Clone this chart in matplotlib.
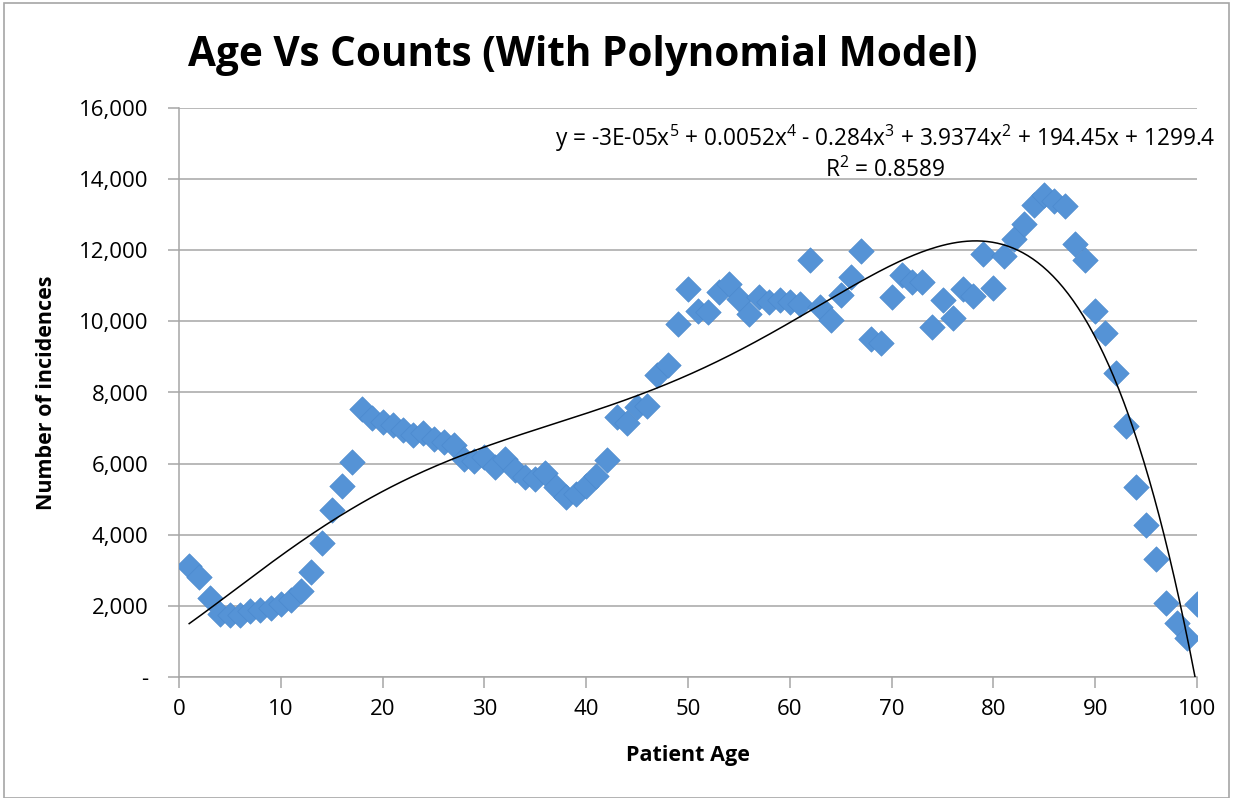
import numpy as np
import matplotlib
matplotlib.use("Agg")
from matplotlib import pyplot as plt
from matplotlib.ticker import FuncFormatter
from matplotlib.patches import Rectangle

# Patient age vs number of incidences
ages = list(range(1, 101))
counts = [
    3130, 2800, 2220, 1770, 1750, 1750, 1860, 1880, 1950, 2050,
    2160, 2420, 2940, 3780, 4690, 5380, 6040, 7540, 7290, 7160,
    7100, 6950, 6800, 6850, 6700, 6600, 6510, 6130, 6080, 6200,
    5900, 6130, 5820, 5610, 5570, 5750, 5330, 5050, 5150, 5380,
    5660, 6100, 7300, 7140, 7590, 7630, 8500, 8760, 9930, 10920,
    10300, 10260, 10830, 11060, 10640, 10220, 10690, 10540, 10590, 10540,
    10500, 11720, 10400, 10030, 10730, 11250, 11980, 9510, 9390, 10690,
    11300, 11110, 11110, 9840, 10590, 10100, 10920, 10700, 11900, 10950,
    11830, 12330, 12750, 13270, 13550, 13390, 13240, 12170, 11720, 10290,
    9680, 8540, 7050, 5330, 4280, 3310, 2070, 1530, 1110, 2050,
]

x_ticks = list(range(0, 101, 10))
y_ticks = list(range(0, 16001, 2000))

title = "Age Vs Counts (With Polynomial Model)"
eq_text = "y = -3E-05x$^5$ + 0.0052x$^4$ - 0.284x$^3$ + 3.9374x$^2$ + 194.45x + 1299.4"
r2_text = "R$^2$ = 0.8589"

FONT = "Open Sans"
plt.rcParams["font.family"] = [FONT, "DejaVu Sans"]
plt.rcParams["mathtext.fontset"] = "custom"
plt.rcParams["mathtext.rm"] = FONT

W, H = 1233, 798
fig = plt.figure(figsize=(W / 100, H / 100), dpi=100)

# plot area in pixels: left 179, right 1197, top 108, bottom 677
ax = fig.add_axes([179 / W, 1 - 677 / H, (1197 - 179) / W, (677 - 108) / H])

# chart border
fig.patches.append(Rectangle((4 / W, 0), (1229 - 4) / W, 1 - 3 / H, transform=fig.transFigure,
                             fill=False, edgecolor="#a6a6a6", linewidth=1.2))

x = np.array(ages, dtype=float)
y = np.array(counts, dtype=float)

# 5th order polynomial trendline, like the Excel one
coef = np.polyfit(x, y, 5)
xs = np.linspace(x.min(), x.max(), 400)
ys = np.polyval(coef, xs)

ax.scatter(x, y, marker="D", s=13 ** 2, color="#5593d6", edgecolors="#4a88cc",
           linewidths=0.4, zorder=3)
ax.plot(xs, ys, color="black", linewidth=1.1, zorder=4)

ax.set_xlim(0, 100)
ax.set_ylim(0, 16000)
ax.set_xticks(x_ticks)
ax.set_yticks(y_ticks)
ax.yaxis.set_major_formatter(FuncFormatter(lambda v, p: "-" if v == 0 else f"{int(v):,}"))

ax.grid(axis="y", color="#a6a6a6", linewidth=1.1)
ax.set_axisbelow(True)
for s in ["top", "right"]:
    ax.spines[s].set_visible(False)
for s in ["left", "bottom"]:
    ax.spines[s].set_color("#a6a6a6")
    ax.spines[s].set_linewidth(1.1)

ax.tick_params(axis="both", colors="#a6a6a6", labelcolor="black", labelsize=16,
               length=8, width=1.1, direction="out")
ax.tick_params(axis="y", pad=14)
ax.tick_params(axis="x", pad=8)

ax.set_xlabel("Patient Age", fontsize=15.5, fontweight="bold", labelpad=18)
ax.set_ylabel("Number of incidences", fontsize=15.5, fontweight="bold", labelpad=16)

fig.text(188 / W, 1 - 55 / H, title, fontsize=29.2, fontweight="bold", ha="left", va="center")

fig.text(885 / W, 1 - 138 / H, eq_text, fontsize=16.3, ha="center", va="center")
fig.text(885 / W, 1 - 170 / H, r2_text, fontsize=16.3, ha="center", va="center")

fig.savefig("out.png", dpi=100)
